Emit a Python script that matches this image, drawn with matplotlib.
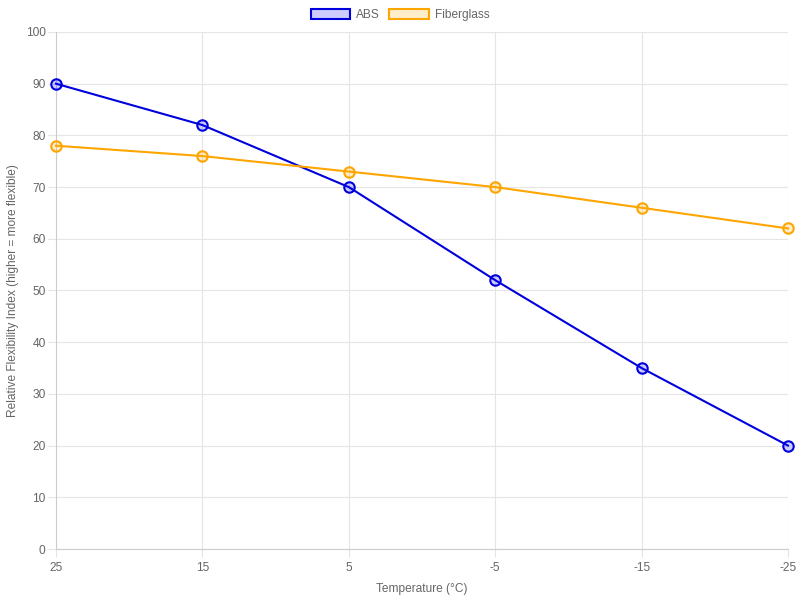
import matplotlib
matplotlib.use('Agg')
import matplotlib.pyplot as plt
from matplotlib.patches import Patch

plt.rcParams['font.family'] = ['Liberation Sans', 'DejaVu Sans']

temperatures = ['25', '15', '5', '-5', '-15', '-25']
absValues = [90, 82, 70, 52, 35, 20]
fiberglassValues = [78, 76, 73, 70, 66, 62]

absColor = '#0000dd'
fiberColor = '#ffa500'
gridColor = '#e5e5e5'
textColor = '#666666'

fig = plt.figure(figsize=(8, 6), dpi=100)
ax = fig.add_axes([0.07, 0.085, 0.915, 0.8617])

xs = list(range(len(temperatures)))
ax.plot(xs, absValues, color=absColor, linewidth=1.5, marker='o', markersize=7.5,
        markerfacecolor=(0, 0, 1, 0.2), markeredgecolor=absColor, markeredgewidth=1.5,
        zorder=3, clip_on=False)
ax.plot(xs, fiberglassValues, color=fiberColor, linewidth=1.5, marker='o', markersize=7.5,
        markerfacecolor=(1, 0.65, 0, 0.2), markeredgecolor=fiberColor, markeredgewidth=1.5,
        zorder=3, clip_on=False)

ax.set_xlim(0, len(temperatures) - 1)
ax.set_ylim(0, 100)
ax.set_xticks(xs)
ax.set_xticklabels(temperatures)
ax.set_yticks(range(0, 101, 10))
ax.grid(True, color=gridColor, linewidth=0.8)
ax.set_axisbelow(True)
for side in ['top', 'right']:
    ax.spines[side].set_visible(False)
for side in ['left', 'bottom']:
    ax.spines[side].set_color('#cccccc')
    ax.spines[side].set_linewidth(0.8)
ax.tick_params(colors=textColor, labelsize=8.6, length=6, width=0.8, color=gridColor)
ax.tick_params(axis='y', pad=1.5)

ax.set_xlabel('Temperature (°C)', color=textColor, fontsize=8.6, labelpad=6)
ax.set_ylabel('Relative Flexibility Index (higher = more flexible)', color=textColor,
              fontsize=8.6, labelpad=5)

handles = [
    Patch(facecolor=(0, 0, 1, 0.2), edgecolor=absColor, linewidth=1.5, label='ABS'),
    Patch(facecolor=(1, 0.65, 0, 0.2), edgecolor=fiberColor, linewidth=1.5, label='Fiberglass'),
]
fig.legend(handles=handles, loc='upper center', bbox_to_anchor=(0.5, 1.003), ncol=2, frameon=False,
           fontsize=8.6, handlelength=3.3, handleheight=0.9, columnspacing=0.8, handletextpad=0.5,
           labelcolor=textColor)

fig.savefig('out.png', dpi=100)
